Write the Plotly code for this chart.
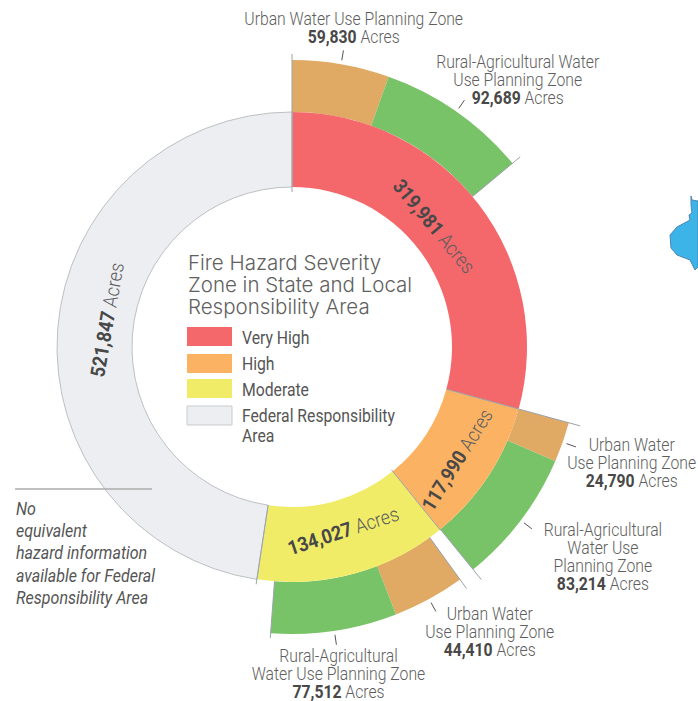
import json
import math
import plotly.graph_objects as go

W, H = 698, 701
CX, CY = 292, 347
R_HOLE, R_IN, R_OUT = 160, 235, 287

# Inner ring: printed acreage and the sweep as drawn in the reference
inner_names = ["Very High", "High", "Moderate", "Federal Responsibility Area"]
inner_acres = [319981, 117990, 134027, 521847]
inner_drawn = [319981, 108440, 144630, 520794]
inner_colors = ["#F4676B", "#FBB363", "#F0EC68", "#EDEEF1"]

# Outer ring: one urban and one rural slice beside each hazard class
outer_names = ["Urban", "Rural", "Urban", "Rural", "Urban", "Rural"]
outer_acres = [59830, 92689, 24790, 83214, 44410, 77512]
outer_gaps = [0, 167462, 0, 9986, 0, 0]  # unfilled span after each slice
outer_colors = ["#E0A964", "#78C267", "#E0A964", "#78C267", "#E0A964", "#78C267"]

TOTAL = sum(inner_acres)
LIGHT = "#5E5E5E"
DARK = "#484848"
NARROW = "Roboto, sans-serif"
RULE = "#9AA2AB"
SQUEEZE = 0.9


def px(x):
    return x / W


def py(y):
    return 1 - y / H


def polar(angle, r):
    a = math.radians(angle)
    return CX + r * math.sin(a), CY - r * math.cos(a)


def domain(r):
    return dict(x=[px(CX - r), px(CX + r)], y=[py(CY + r), py(CY - r)])


def cumul(values):
    out, s = [], 0
    for v in values:
        s += v
        out.append(s / TOTAL * 360)
    return out


outer_vals, outer_cols = [], []
for v, g, c in zip(outer_acres, outer_gaps, outer_colors):
    outer_vals.append(v)
    outer_cols.append(c)
    if g:
        outer_vals.append(g)
        outer_cols.append("rgba(0,0,0,0)")
outer_vals.append(TOTAL - sum(outer_acres) - sum(outer_gaps))
outer_cols.append("rgba(0,0,0,0)")

fig = go.Figure()
fig.add_trace(go.Pie(values=outer_vals, sort=False, direction="clockwise", rotation=0,
                     hole=R_IN / R_OUT, domain=domain(R_OUT), textinfo="none", hoverinfo="skip",
                     marker=dict(colors=outer_cols, line=dict(width=0)), showlegend=False))
fig.add_trace(go.Pie(values=inner_drawn, labels=inner_names, sort=False, direction="clockwise", rotation=0,
                     hole=R_HOLE / R_IN, domain=domain(R_IN), textinfo="none", hoverinfo="label+value",
                     marker=dict(colors=inner_colors,
                                 line=dict(color=["#F4676B", "#FBB363", "#F0EC68", "#BDC0C4"],
                                           width=[0, 0, 0, 1])),
                     showlegend=False))

shapes, ann, line_gaps = [], [], []


def line(x0, y0, x1, y1, color=RULE, width=1):
    shapes.append(dict(type="line", xref="paper", yref="paper", x0=px(x0), y0=py(y0), x1=px(x1), y1=py(y1),
                       line=dict(color=color, width=width)))


def text(x, y, s, size=17.5, color=LIGHT, anchor="center", angle=0, family=NARROW, weight=300, gap=0):
    """Place one text block; y is the middle of the block, gap the wanted line pitch in px."""
    ann.append(dict(xref="paper", yref="paper", x=px(x), y=py(y), text=s, showarrow=False,
                    xanchor=anchor, yanchor="middle", align=anchor, textangle=angle, borderpad=0,
                    font=dict(family=family, size=size, color=color, weight=weight)))
    line_gaps.append(gap)


def acres(v):
    return f"<b><span style='color:{DARK}'>{v:,}</span></b> Acres"


# Radial rules at ring boundaries
in_c = cumul(inner_drawn)
out_edges = []
s = 0
for v, g in zip(outer_acres, outer_gaps):
    s += v
    out_edges.append(s / TOTAL * 360)
    s += g
out_starts = [0] + [out_edges[i] + outer_gaps[i] / TOTAL * 360 for i in range(5)]

for ang, r0, r1 in [(0, 155, 293), (out_edges[1], 235, 297), (in_c[0], 160, 299),
                    (in_c[1], 158, 236), (out_edges[3], 235, 300), (out_starts[4], 235, 298),
                    (in_c[2], 160, 240), (out_edges[5], 235, 292)]:
    x0, y0 = polar(ang, r0)
    x1, y1 = polar(ang, r1)
    line(x0, y0, x1, y1)

# Short leader ticks at each outer slice's mid-angle
for a, b in zip(out_starts, out_edges):
    m = (a + b) / 2
    x0, y0 = polar(m, 291)
    x1, y1 = polar(m, 301)
    line(x0, y0, x1, y1, color="#555555", width=1)

# Ring labels
for v, x, y, ang in zip(inner_acres, [434, 457, 343, 107], [226, 460, 531, 320], [50, -58, -18, -80]):
    text(x, y, acres(v), size=20, angle=ang)

# Outer labels
outer_labels = [
    (353, 28, ["Urban Water Use Planning Zone"], 0),
    (518, 80, ["Rural-Agricultural Water", "Use Planning Zone"], 1),
    (631, 463, ["Urban Water", "Use Planning Zone"], 2),
    (603, 557, ["Rural-Agricultural", "Water Use", "Planning Zone"], 3),
    (489, 632, ["Urban Water", "Use Planning Zone"], 4),
    (338, 674, ["Rural-Agricultural", "Water Use Planning Zone"], 5),
]
for x, y, parts, i in outer_labels:
    text(x, y, "<br>".join(parts + [acres(outer_acres[i])]), gap=18)

# Centre title and legend
text(187, 284, "Fire Hazard Severity<br>Zone in State and Local<br>Responsibility Area", size=20.5,
     color="#606060", anchor="left", family="Inter, sans-serif", gap=22)

for y0, y1, c, border in [(327, 346, inner_colors[0], None), (354, 373, inner_colors[1], None),
                          (379, 398, inner_colors[2], None), (406, 425, inner_colors[3], "#C9CBCE")]:
    shapes.append(dict(type="rect", xref="paper", yref="paper", x0=px(187), x1=px(232), y0=py(y0), y1=py(y1),
                       fillcolor=c, line=dict(color=border or c, width=1 if border else 0)))
for y, s_ in [(338, "Very High"), (364, "High"), (390, "Moderate")]:
    text(241, y, s_, color="#555555", anchor="left", weight=400)
text(241, 426, "Federal Responsibility<br>Area", color="#555555", anchor="left", weight=400, gap=20)

# Federal note
line(15, 489, 152, 489, color="#ABABAB", width=1.5)
text(15, 552.5, "<i>No<br>equivalent<br>hazard information<br>available for Federal<br>Responsibility Area</i>",
     size=17.8, color="#555555", anchor="left", weight=400, gap=22.25)

# Fragment of a map at the right edge
outline = [(698, 201), (692, 200), (691, 196), (691, 205), (692, 213), (689, 215), (690, 220), (677, 227),
           (670, 235), (671, 248), (677, 255), (690, 260), (695, 270), (698, 267)]
path = "M " + " L ".join(f"{px(x)} {py(y)}" for x, y in outline) + " Z"
shapes.append(dict(type="path", xref="paper", yref="paper", path=path, fillcolor="#3DB4E8",
                   line=dict(color="#4A86B8", width=1)))

fig.update_layout(width=W, height=H, margin=dict(l=0, r=0, t=0, b=0), paper_bgcolor="white",
                  plot_bgcolor="white", shapes=shapes, annotations=ann)

# The reference's type is condensed and tightly leaded, and no condensed face is installed:
# squeeze the real text horizontally and set the line pitch on the rendered lines.
post = """
document.body.style.margin='0';
var gd=document.getElementById('{plot_id}');
var gaps=%s, k=%s;
gd.querySelectorAll('.annotation').forEach(function(g){
  var idx=+g.getAttribute('data-index'), a=gd.layout.annotations[idx];
  var t=g.querySelector('text'), gap=gaps[idx], shift=0;
  var lines=t.querySelectorAll('tspan.line');
  if(gap && lines.length>1){
    lines.forEach(function(l,i){l.setAttribute('dy',(i*gap/a.font.size)+'em');});
    shift=(lines.length-1)*(1.3*a.font.size-gap)/2;
  }
  var f=a.font.family.indexOf('Inter')===0?1:k;
  var b=t.getBBox();
  var c=a.xanchor==='left'?b.x:b.x+b.width/2;
  t.setAttribute('transform','translate('+c+','+shift+') scale('+f+',1) translate('+(-c)+',0)');
});
""" % (json.dumps(line_gaps), SQUEEZE)
fig.write_html("out.html", post_script=post, config=dict(displayModeBar=False))
